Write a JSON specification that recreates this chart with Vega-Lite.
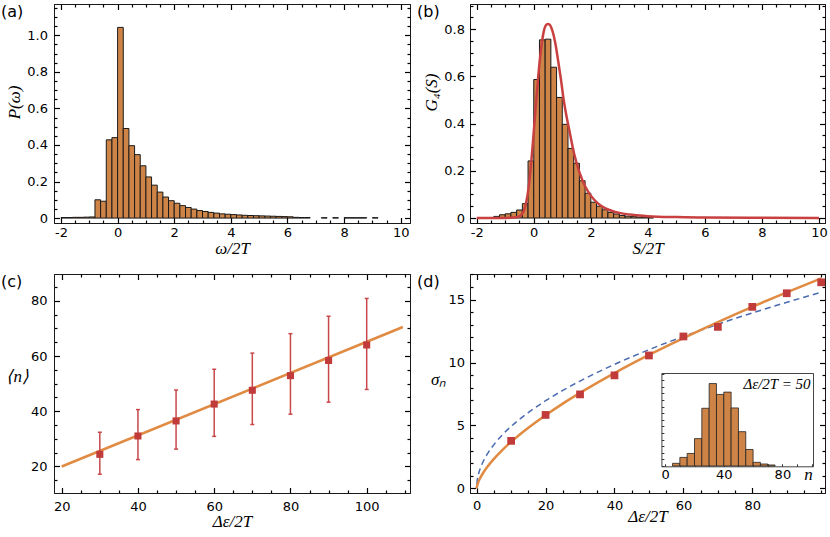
{
  "$schema": "https://vega.github.io/schema/vega-lite/v6.json",
  "background": "white",
  "padding": {"left": 0, "top": 2, "right": 0, "bottom": 0},
  "columns": 2,
  "spacing": {"row": 51, "column": 60},
  "bounds": "flush",
  "datasets": {
    "histA": [
      {"lo": -2.0, "hi": -1.8, "p": 0.003}, {"lo": -1.8, "hi": -1.6, "p": 0.003},
      {"lo": -1.6, "hi": -1.4, "p": 0.004}, {"lo": -1.4, "hi": -1.2, "p": 0.004},
      {"lo": -1.2, "hi": -1.0, "p": 0.005}, {"lo": -1.0, "hi": -0.8, "p": 0.006},
      {"lo": -0.8, "hi": -0.6, "p": 0.100}, {"lo": -0.6, "hi": -0.4, "p": 0.092},
      {"lo": -0.4, "hi": -0.2, "p": 0.428}, {"lo": -0.2, "hi": 0.0, "p": 0.440},
      {"lo": 0.0, "hi": 0.2, "p": 1.043}, {"lo": 0.2, "hi": 0.4, "p": 0.490},
      {"lo": 0.4, "hi": 0.6, "p": 0.396}, {"lo": 0.6, "hi": 0.8, "p": 0.347},
      {"lo": 0.8, "hi": 1.0, "p": 0.286}, {"lo": 1.0, "hi": 1.2, "p": 0.225},
      {"lo": 1.2, "hi": 1.4, "p": 0.180}, {"lo": 1.4, "hi": 1.6, "p": 0.142},
      {"lo": 1.6, "hi": 1.8, "p": 0.115}, {"lo": 1.8, "hi": 2.0, "p": 0.095},
      {"lo": 2.0, "hi": 2.2, "p": 0.081}, {"lo": 2.2, "hi": 2.4, "p": 0.068},
      {"lo": 2.4, "hi": 2.6, "p": 0.058}, {"lo": 2.6, "hi": 2.8, "p": 0.049},
      {"lo": 2.8, "hi": 3.0, "p": 0.041}, {"lo": 3.0, "hi": 3.2, "p": 0.036},
      {"lo": 3.2, "hi": 3.4, "p": 0.031}, {"lo": 3.4, "hi": 3.6, "p": 0.027},
      {"lo": 3.6, "hi": 3.8, "p": 0.023}, {"lo": 3.8, "hi": 4.0, "p": 0.021},
      {"lo": 4.0, "hi": 4.2, "p": 0.019}, {"lo": 4.2, "hi": 4.4, "p": 0.017},
      {"lo": 4.4, "hi": 4.6, "p": 0.015}, {"lo": 4.6, "hi": 4.8, "p": 0.014},
      {"lo": 4.8, "hi": 5.0, "p": 0.013}, {"lo": 5.0, "hi": 5.2, "p": 0.012},
      {"lo": 5.2, "hi": 5.4, "p": 0.011}, {"lo": 5.4, "hi": 5.6, "p": 0.010},
      {"lo": 5.6, "hi": 5.8, "p": 0.009}, {"lo": 5.8, "hi": 6.0, "p": 0.008},
      {"lo": 6.0, "hi": 6.2, "p": 0.007}, {"lo": 6.2, "hi": 6.4, "p": 0.004},
      {"lo": 6.4, "hi": 6.6, "p": 0.003}, {"lo": 6.6, "hi": 6.8, "p": 0.003},
      {"lo": 7.2, "hi": 7.4, "p": 0.002}, {"lo": 7.6, "hi": 7.8, "p": 0.002},
      {"lo": 8.0, "hi": 8.2, "p": 0.002}, {"lo": 8.2, "hi": 8.4, "p": 0.002},
      {"lo": 8.4, "hi": 8.6, "p": 0.002}, {"lo": 8.6, "hi": 8.8, "p": 0.002},
      {"lo": 9.0, "hi": 9.2, "p": 0.002}
    ],
    "histB": [
      {"lo": -1.4, "hi": -1.2, "g": 0.007}, {"lo": -1.2, "hi": -1.0, "g": 0.014},
      {"lo": -1.0, "hi": -0.8, "g": 0.018}, {"lo": -0.8, "hi": -0.6, "g": 0.024},
      {"lo": -0.6, "hi": -0.4, "g": 0.034}, {"lo": -0.4, "hi": -0.2, "g": 0.061},
      {"lo": -0.2, "hi": 0.0, "g": 0.242}, {"lo": 0.0, "hi": 0.2, "g": 0.587},
      {"lo": 0.2, "hi": 0.4, "g": 0.755}, {"lo": 0.4, "hi": 0.6, "g": 0.758},
      {"lo": 0.6, "hi": 0.8, "g": 0.639}, {"lo": 0.8, "hi": 1.0, "g": 0.511},
      {"lo": 1.0, "hi": 1.2, "g": 0.397}, {"lo": 1.2, "hi": 1.4, "g": 0.295},
      {"lo": 1.4, "hi": 1.6, "g": 0.232}, {"lo": 1.6, "hi": 1.8, "g": 0.158},
      {"lo": 1.8, "hi": 2.0, "g": 0.105}, {"lo": 2.0, "hi": 2.2, "g": 0.067},
      {"lo": 2.2, "hi": 2.4, "g": 0.050}, {"lo": 2.4, "hi": 2.6, "g": 0.035},
      {"lo": 2.6, "hi": 2.8, "g": 0.024}, {"lo": 2.8, "hi": 3.0, "g": 0.017},
      {"lo": 3.0, "hi": 3.2, "g": 0.011}, {"lo": 3.2, "hi": 3.4, "g": 0.008},
      {"lo": 3.4, "hi": 3.6, "g": 0.006}, {"lo": 3.6, "hi": 3.8, "g": 0.004},
      {"lo": 3.8, "hi": 4.0, "g": 0.003}, {"lo": 4.0, "hi": 4.2, "g": 0.002}
    ],
    "curveB": [
      {"s": -2.0, "g": 0.0}, {"s": -1.0, "g": 0.0005}, {"s": -0.6, "g": 0.003},
      {"s": -0.45, "g": 0.012}, {"s": -0.35, "g": 0.03}, {"s": -0.25, "g": 0.075},
      {"s": -0.15, "g": 0.16}, {"s": -0.05, "g": 0.29}, {"s": 0.05, "g": 0.44},
      {"s": 0.15, "g": 0.59}, {"s": 0.25, "g": 0.71}, {"s": 0.35, "g": 0.79},
      {"s": 0.45, "g": 0.82}, {"s": 0.5, "g": 0.822}, {"s": 0.55, "g": 0.82},
      {"s": 0.65, "g": 0.795}, {"s": 0.75, "g": 0.745}, {"s": 0.85, "g": 0.67},
      {"s": 0.95, "g": 0.59}, {"s": 1.05, "g": 0.5}, {"s": 1.15, "g": 0.43},
      {"s": 1.25, "g": 0.37}, {"s": 1.4, "g": 0.28}, {"s": 1.6, "g": 0.195},
      {"s": 1.8, "g": 0.135}, {"s": 2.0, "g": 0.095}, {"s": 2.25, "g": 0.062},
      {"s": 2.5, "g": 0.042}, {"s": 2.75, "g": 0.03}, {"s": 3.0, "g": 0.022},
      {"s": 3.5, "g": 0.013}, {"s": 4.0, "g": 0.008}, {"s": 5.0, "g": 0.004},
      {"s": 6.0, "g": 0.0025}, {"s": 8.0, "g": 0.0012}, {"s": 10.0, "g": 0.0007}
    ],
    "pointsC": [
      {"de": 30, "n": 24.4, "lo": 17.2, "hi": 32.4},
      {"de": 40, "n": 31.05, "lo": 22.5, "hi": 40.6},
      {"de": 50, "n": 36.5, "lo": 26.3, "hi": 47.7},
      {"de": 60, "n": 42.6, "lo": 30.9, "hi": 55.2},
      {"de": 70, "n": 47.6, "lo": 35.2, "hi": 61.05},
      {"de": 80, "n": 52.9, "lo": 38.95, "hi": 68.1},
      {"de": 90, "n": 58.4, "lo": 43.3, "hi": 74.4},
      {"de": 100, "n": 64.0, "lo": 47.9, "hi": 80.85}
    ],
    "lineC": [
      {"de": 20, "n": 20}, {"de": 109.5, "n": 70.5}
    ],
    "pointsD": [
      {"de": 10, "sigma": 3.78}, {"de": 20, "sigma": 5.84}, {"de": 30, "sigma": 7.47},
      {"de": 40, "sigma": 8.98}, {"de": 50, "sigma": 10.56}, {"de": 60, "sigma": 12.07},
      {"de": 70, "sigma": 12.83}, {"de": 80, "sigma": 14.42}, {"de": 90, "sigma": 15.5},
      {"de": 100, "sigma": 16.37}
    ],
    "fitD": [
      {"de": 0, "sigma": 0}, {"de": 0.1, "sigma": 0.18}, {"de": 0.25, "sigma": 0.33},
      {"de": 0.5, "sigma": 0.52}, {"de": 1, "sigma": 0.82}, {"de": 2, "sigma": 1.29},
      {"de": 3, "sigma": 1.68}, {"de": 5, "sigma": 2.35}, {"de": 7.5, "sigma": 3.07},
      {"de": 10, "sigma": 3.7}, {"de": 15, "sigma": 4.82}, {"de": 20, "sigma": 5.82},
      {"de": 25, "sigma": 6.74}, {"de": 30, "sigma": 7.59}, {"de": 40, "sigma": 9.16},
      {"de": 50, "sigma": 10.6}, {"de": 60, "sigma": 11.94}, {"de": 70, "sigma": 13.21},
      {"de": 80, "sigma": 14.42}, {"de": 90, "sigma": 15.57}, {"de": 100, "sigma": 16.68}
    ],
    "sqrtD": [
      {"de": 0.05, "sigma": 0.35}, {"de": 0.2, "sigma": 0.7}, {"de": 0.5, "sigma": 1.1},
      {"de": 1, "sigma": 1.56}, {"de": 2, "sigma": 2.2}, {"de": 3, "sigma": 2.7},
      {"de": 5, "sigma": 3.48}, {"de": 7.5, "sigma": 4.27}, {"de": 10, "sigma": 4.93},
      {"de": 15, "sigma": 6.03}, {"de": 20, "sigma": 6.97}, {"de": 25, "sigma": 7.79},
      {"de": 30, "sigma": 8.53}, {"de": 40, "sigma": 9.85}, {"de": 50, "sigma": 11.02},
      {"de": 60, "sigma": 12.07}, {"de": 70, "sigma": 13.04}, {"de": 80, "sigma": 13.94},
      {"de": 90, "sigma": 14.78}, {"de": 100, "sigma": 15.58}
    ],
    "inset": [
      {"lo": 5, "hi": 10, "count": 8}, {"lo": 10, "hi": 15, "count": 26},
      {"lo": 15, "hi": 20, "count": 38}, {"lo": 20, "hi": 25, "count": 83},
      {"lo": 25, "hi": 30, "count": 175}, {"lo": 30, "hi": 35, "count": 250},
      {"lo": 35, "hi": 40, "count": 217}, {"lo": 40, "hi": 45, "count": 224},
      {"lo": 45, "hi": 50, "count": 176}, {"lo": 50, "hi": 55, "count": 104},
      {"lo": 55, "hi": 60, "count": 50}, {"lo": 60, "hi": 65, "count": 11},
      {"lo": 65, "hi": 70, "count": 6}, {"lo": 70, "hi": 75, "count": 3}
    ]
  },
  "concat": [
    {
      "title": "(a)",
      "width": 356,
      "height": 219,
      "layer": [
        {
          "data": {"name": "histA"},
          "mark": {"type": "bar", "fill": "#CF8447", "stroke": "#1a1a1a", "strokeWidth": 1},
          "encoding": {
            "x": {"field": "lo", "type": "quantitative", "scale": {"domain": [-2.247, 10.33], "nice": false, "zero": false},
              "axis": {"orient": "bottom", "values": [-2, 0, 2, 4, 6, 8, 10], "ticks": false, "labelPadding": 3.5, "labelExpr": "replace(datum.label, '−', '-')", "title": "ω/2T", "titlePadding": 1}},
            "x2": {"field": "hi"},
            "y": {"field": "p", "type": "quantitative", "scale": {"domain": [-0.027, 1.171], "nice": false, "zero": false},
              "axis": {"orient": "left", "values": [0, 0.2, 0.4, 0.6, 0.8, 1.0], "ticks": false, "labelPadding": 6.5, "labelExpr": "datum.value == 0 ? '0' : format(datum.value, '.1f')", "title": "P(ω)", "titlePadding": 3, "titleY": 98}},
            "y2": {"datum": 0}
          }
        },
        {
          "data": {"name": "histA"},
          "mark": {"type": "point", "opacity": 0},
          "encoding": {
            "x": {"field": "lo", "type": "quantitative", "scale": {"domain": [-2.247, 10.33], "nice": false, "zero": false},
              "axis": {"orient": "top", "offset": -219, "values": [-2, 0, 2, 4, 6, 8, 10], "tickSize": 5.5, "tickColor": "#000000", "tickWidth": 1.2, "domain": false, "labels": false, "title": null}},
            "y": {"field": "p", "type": "quantitative", "scale": {"domain": [-0.027, 1.171], "nice": false, "zero": false},
              "axis": {"orient": "right", "offset": -356, "values": [0, 0.2, 0.4, 0.6, 0.8, 1.0], "tickSize": 5.5, "tickColor": "#000000", "tickWidth": 1.2, "domain": false, "labels": false, "title": null}}
          }
        },
        {
          "data": {"name": "histA"},
          "mark": {"type": "point", "opacity": 0},
          "encoding": {
            "x": {"field": "lo", "type": "quantitative", "scale": {"domain": [-2.247, 10.33], "nice": false, "zero": false},
              "axis": {"orient": "top", "offset": -219, "values": [-1.5, -1, -0.5, 0.5, 1, 1.5, 2.5, 3, 3.5, 4.5, 5, 5.5, 6.5, 7, 7.5, 8.5, 9, 9.5], "tickSize": 3, "tickColor": "#000000", "tickWidth": 1.2, "domain": false, "labels": false, "title": null}},
            "y": {"field": "p", "type": "quantitative", "scale": {"domain": [-0.027, 1.171], "nice": false, "zero": false},
              "axis": {"orient": "right", "offset": -356, "values": [0.05, 0.1, 0.15, 0.25, 0.3, 0.35, 0.45, 0.5, 0.55, 0.65, 0.7, 0.75, 0.85, 0.9, 0.95, 1.05, 1.1, 1.15], "tickSize": 3, "tickColor": "#000000", "tickWidth": 1.2, "domain": false, "labels": false, "title": null}}
          }
        },
        {
          "data": {"name": "histA"},
          "mark": {"type": "point", "opacity": 0},
          "encoding": {
            "x": {"field": "lo", "type": "quantitative", "scale": {"domain": [-2.247, 10.33], "nice": false, "zero": false},
              "axis": {"orient": "bottom", "offset": -219, "values": [-2, 0, 2, 4, 6, 8, 10], "tickSize": 5.5, "tickColor": "#000000", "tickWidth": 1.2, "labels": false, "title": null}},
            "y": {"field": "p", "type": "quantitative", "scale": {"domain": [-0.027, 1.171], "nice": false, "zero": false},
              "axis": {"orient": "left", "offset": -356, "values": [0, 0.2, 0.4, 0.6, 0.8, 1.0], "tickSize": 5.5, "tickColor": "#000000", "tickWidth": 1.2, "labels": false, "title": null}}
          }
        },
        {
          "data": {"name": "histA"},
          "mark": {"type": "point", "opacity": 0},
          "encoding": {
            "x": {"field": "lo", "type": "quantitative", "scale": {"domain": [-2.247, 10.33], "nice": false, "zero": false},
              "axis": {"orient": "bottom", "offset": -219, "values": [-1.5, -1, -0.5, 0.5, 1, 1.5, 2.5, 3, 3.5, 4.5, 5, 5.5, 6.5, 7, 7.5, 8.5, 9, 9.5], "tickSize": 3, "tickColor": "#000000", "tickWidth": 1.2, "domain": false, "labels": false, "title": null}},
            "y": {"field": "p", "type": "quantitative", "scale": {"domain": [-0.027, 1.171], "nice": false, "zero": false},
              "axis": {"orient": "left", "offset": -356, "values": [0.05, 0.1, 0.15, 0.25, 0.3, 0.35, 0.45, 0.5, 0.55, 0.65, 0.7, 0.75, 0.85, 0.9, 0.95, 1.05, 1.1, 1.15], "tickSize": 3, "tickColor": "#000000", "tickWidth": 1.2, "domain": false, "labels": false, "title": null}}
          }
        }
      ],
      "resolve": {"axis": {"x": "independent", "y": "independent"}}
    },
    {
      "title": "(b)",
      "width": 355,
      "height": 219,
      "layer": [
        {
          "data": {"name": "histB"},
          "mark": {"type": "bar", "fill": "#CF8447", "stroke": "#1a1a1a", "strokeWidth": 1},
          "encoding": {
            "x": {"field": "lo", "type": "quantitative", "scale": {"domain": [-2.235, 10.21], "nice": false, "zero": false},
              "axis": {"orient": "bottom", "values": [-2, 0, 2, 4, 6, 8, 10], "ticks": false, "labelPadding": 3.5, "labelExpr": "replace(datum.label, '−', '-')", "title": "S/2T", "titlePadding": 1}},
            "x2": {"field": "hi"},
            "y": {"field": "g", "type": "quantitative", "scale": {"domain": [-0.021, 0.907], "nice": false, "zero": false},
              "axis": {"orient": "left", "values": [0, 0.2, 0.4, 0.6, 0.8], "ticks": false, "labelPadding": 5.5, "labelExpr": "datum.value == 0 ? '0' : format(datum.value, '.1f')", "title": "G₄(S)", "titlePadding": 3, "titleY": 88}},
            "y2": {"datum": 0}
          }
        },
        {
          "data": {"name": "curveB"},
          "mark": {"type": "line", "color": "#C8403F", "strokeWidth": 2.5, "interpolate": "monotone"},
          "encoding": {
            "x": {"field": "s", "type": "quantitative", "scale": {"domain": [-2.235, 10.21], "nice": false, "zero": false},
              "axis": {"orient": "top", "offset": -219, "values": [-1.5, -1, -0.5, 0.5, 1, 1.5, 2.5, 3, 3.5, 4.5, 5, 5.5, 6.5, 7, 7.5, 8.5, 9, 9.5], "tickSize": 3, "tickColor": "#000000", "tickWidth": 1.2, "domain": false, "labels": false, "title": null}},
            "y": {"field": "g", "type": "quantitative", "scale": {"domain": [-0.021, 0.907], "nice": false, "zero": false},
              "axis": {"orient": "right", "offset": -355, "values": [0.05, 0.1, 0.15, 0.25, 0.3, 0.35, 0.45, 0.5, 0.55, 0.65, 0.7, 0.75, 0.85, 0.9], "tickSize": 3, "tickColor": "#000000", "tickWidth": 1.2, "domain": false, "labels": false, "title": null}}
          }
        },
        {
          "data": {"name": "histB"},
          "mark": {"type": "point", "opacity": 0},
          "encoding": {
            "x": {"field": "lo", "type": "quantitative", "scale": {"domain": [-2.235, 10.21], "nice": false, "zero": false},
              "axis": {"orient": "top", "offset": -219, "values": [-2, 0, 2, 4, 6, 8, 10], "tickSize": 5.5, "tickColor": "#000000", "tickWidth": 1.2, "domain": false, "labels": false, "title": null}},
            "y": {"field": "g", "type": "quantitative", "scale": {"domain": [-0.021, 0.907], "nice": false, "zero": false},
              "axis": {"orient": "right", "offset": -355, "values": [0, 0.2, 0.4, 0.6, 0.8], "tickSize": 5.5, "tickColor": "#000000", "tickWidth": 1.2, "domain": false, "labels": false, "title": null}}
          }
        },
        {
          "data": {"name": "histB"},
          "mark": {"type": "point", "opacity": 0},
          "encoding": {
            "x": {"field": "lo", "type": "quantitative", "scale": {"domain": [-2.235, 10.21], "nice": false, "zero": false},
              "axis": {"orient": "bottom", "offset": -219, "values": [-2, 0, 2, 4, 6, 8, 10], "tickSize": 5.5, "tickColor": "#000000", "tickWidth": 1.2, "labels": false, "title": null}},
            "y": {"field": "g", "type": "quantitative", "scale": {"domain": [-0.021, 0.907], "nice": false, "zero": false},
              "axis": {"orient": "left", "offset": -355, "values": [0, 0.2, 0.4, 0.6, 0.8], "tickSize": 5.5, "tickColor": "#000000", "tickWidth": 1.2, "labels": false, "title": null}}
          }
        },
        {
          "data": {"name": "histB"},
          "mark": {"type": "point", "opacity": 0},
          "encoding": {
            "x": {"field": "lo", "type": "quantitative", "scale": {"domain": [-2.235, 10.21], "nice": false, "zero": false},
              "axis": {"orient": "bottom", "offset": -219, "values": [-1.5, -1, -0.5, 0.5, 1, 1.5, 2.5, 3, 3.5, 4.5, 5, 5.5, 6.5, 7, 7.5, 8.5, 9, 9.5], "tickSize": 3, "tickColor": "#000000", "tickWidth": 1.2, "domain": false, "labels": false, "title": null}},
            "y": {"field": "g", "type": "quantitative", "scale": {"domain": [-0.021, 0.907], "nice": false, "zero": false},
              "axis": {"orient": "left", "offset": -355, "values": [0.05, 0.1, 0.15, 0.25, 0.3, 0.35, 0.45, 0.5, 0.55, 0.65, 0.7, 0.75, 0.85, 0.9], "tickSize": 3, "tickColor": "#000000", "tickWidth": 1.2, "domain": false, "labels": false, "title": null}}
          }
        }
      ],
      "resolve": {"axis": {"x": "independent", "y": "independent"}}
    },
    {
      "title": "(c)",
      "width": 356,
      "height": 219,
      "layer": [
        {
          "data": {"name": "lineC"},
          "mark": {"type": "line", "color": "#E08A42", "strokeWidth": 2.5},
          "encoding": {
            "x": {"field": "de", "type": "quantitative", "scale": {"domain": [17.98, 111.36], "nice": false, "zero": false},
              "axis": {"orient": "top", "offset": -219, "values": [25, 30, 35, 45, 50, 55, 65, 70, 75, 85, 90, 95, 105, 110], "tickSize": 3, "tickColor": "#000000", "tickWidth": 1.2, "domain": false, "labels": false, "title": null}},
            "y": {"field": "n", "type": "quantitative", "scale": {"domain": [10.4, 89.7], "nice": false, "zero": false},
              "axis": {"orient": "right", "offset": -356, "values": [15, 25, 30, 35, 45, 50, 55, 65, 70, 75, 85], "tickSize": 3, "tickColor": "#000000", "tickWidth": 1.2, "domain": false, "labels": false, "title": null}}
          }
        },
        {
          "data": {"name": "pointsC"},
          "mark": {"type": "rule", "color": "#C8484A", "strokeWidth": 1.5},
          "encoding": {
            "x": {"field": "de", "type": "quantitative", "scale": {"domain": [17.98, 111.36], "nice": false, "zero": false}, "axis": null},
            "y": {"field": "lo", "type": "quantitative", "scale": {"domain": [10.4, 89.7], "nice": false, "zero": false}, "axis": null},
            "y2": {"field": "hi"}
          }
        },
        {
          "data": {"name": "pointsC"},
          "mark": {"type": "tick", "orient": "horizontal", "color": "#C8484A", "size": 4, "thickness": 1.5, "opacity": 1},
          "encoding": {
            "x": {"field": "de", "type": "quantitative", "scale": {"domain": [17.98, 111.36], "nice": false, "zero": false}, "axis": null},
            "y": {"field": "lo", "type": "quantitative", "scale": {"domain": [10.4, 89.7], "nice": false, "zero": false}, "axis": null}
          }
        },
        {
          "data": {"name": "pointsC"},
          "mark": {"type": "tick", "orient": "horizontal", "color": "#C8484A", "size": 4, "thickness": 1.5, "opacity": 1},
          "encoding": {
            "x": {"field": "de", "type": "quantitative", "scale": {"domain": [17.98, 111.36], "nice": false, "zero": false}, "axis": null},
            "y": {"field": "hi", "type": "quantitative", "scale": {"domain": [10.4, 89.7], "nice": false, "zero": false}, "axis": null}
          }
        },
        {
          "data": {"name": "pointsC"},
          "mark": {"type": "square", "color": "#C23B3B", "size": 50, "opacity": 1},
          "encoding": {
            "x": {"field": "de", "type": "quantitative", "scale": {"domain": [17.98, 111.36], "nice": false, "zero": false},
              "axis": {"orient": "bottom", "values": [20, 40, 60, 80, 100], "ticks": false, "labelPadding": 7.5, "title": "Δε/2T", "titlePadding": 0}},
            "y": {"field": "n", "type": "quantitative", "scale": {"domain": [10.4, 89.7], "nice": false, "zero": false},
              "axis": {"orient": "left", "values": [20, 40, 60, 80], "ticks": false, "labelPadding": 7, "title": "⟨n⟩", "titleAngle": 0, "titleAlign": "right", "titleBaseline": "middle", "titlePadding": 2, "titleY": 102}}
          }
        },
        {
          "data": {"name": "pointsC"},
          "mark": {"type": "point", "opacity": 0},
          "encoding": {
            "x": {"field": "de", "type": "quantitative", "scale": {"domain": [17.98, 111.36], "nice": false, "zero": false},
              "axis": {"orient": "top", "offset": -219, "values": [20, 40, 60, 80, 100], "tickSize": 5.5, "tickColor": "#000000", "tickWidth": 1.2, "domain": false, "labels": false, "title": null}},
            "y": {"field": "n", "type": "quantitative", "scale": {"domain": [10.4, 89.7], "nice": false, "zero": false},
              "axis": {"orient": "right", "offset": -356, "values": [20, 40, 60, 80], "tickSize": 5.5, "tickColor": "#000000", "tickWidth": 1.2, "domain": false, "labels": false, "title": null}}
          }
        },
        {
          "data": {"name": "pointsC"},
          "mark": {"type": "point", "opacity": 0},
          "encoding": {
            "x": {"field": "de", "type": "quantitative", "scale": {"domain": [17.98, 111.36], "nice": false, "zero": false},
              "axis": {"orient": "bottom", "offset": -219, "values": [20, 40, 60, 80, 100], "tickSize": 5.5, "tickColor": "#000000", "tickWidth": 1.2, "labels": false, "title": null}},
            "y": {"field": "n", "type": "quantitative", "scale": {"domain": [10.4, 89.7], "nice": false, "zero": false},
              "axis": {"orient": "left", "offset": -356, "values": [20, 40, 60, 80], "tickSize": 5.5, "tickColor": "#000000", "tickWidth": 1.2, "labels": false, "title": null}}
          }
        },
        {
          "data": {"name": "pointsC"},
          "mark": {"type": "point", "opacity": 0},
          "encoding": {
            "x": {"field": "de", "type": "quantitative", "scale": {"domain": [17.98, 111.36], "nice": false, "zero": false},
              "axis": {"orient": "bottom", "offset": -219, "values": [25, 30, 35, 45, 50, 55, 65, 70, 75, 85, 90, 95, 105, 110], "tickSize": 3, "tickColor": "#000000", "tickWidth": 1.2, "domain": false, "labels": false, "title": null}},
            "y": {"field": "n", "type": "quantitative", "scale": {"domain": [10.4, 89.7], "nice": false, "zero": false},
              "axis": {"orient": "left", "offset": -356, "values": [15, 25, 30, 35, 45, 50, 55, 65, 70, 75, 85], "tickSize": 3, "tickColor": "#000000", "tickWidth": 1.2, "domain": false, "labels": false, "title": null}}
          }
        }
      ],
      "resolve": {"axis": {"x": "independent", "y": "independent"}}
    },
    {
      "title": "(d)",
      "width": 355,
      "height": 219,
      "layer": [
        {
          "layer": [
            {
              "data": {"name": "sqrtD"},
              "mark": {"type": "line", "color": "#4A6BB0", "strokeWidth": 1.5, "strokeDash": [6, 4], "interpolate": "monotone"},
              "encoding": {
                "x": {"field": "de", "type": "quantitative", "scale": {"domain": [-1.94, 101.1], "nice": false, "zero": false},
                  "axis": {"orient": "top", "offset": -219, "values": [0, 20, 40, 60, 80], "tickSize": 5.5, "tickColor": "#000000", "tickWidth": 1.2, "domain": false, "labels": false, "title": null}},
                "y": {"field": "sigma", "type": "quantitative", "scale": {"domain": [-0.36, 17.03], "nice": false, "zero": false},
                  "axis": {"orient": "right", "offset": -355, "values": [0, 5, 10, 15], "tickSize": 5.5, "tickColor": "#000000", "tickWidth": 1.2, "domain": false, "labels": false, "title": null}}
              }
            },
            {
              "data": {"name": "fitD"},
              "mark": {"type": "line", "color": "#E08A42", "strokeWidth": 2.5, "interpolate": "monotone"},
              "encoding": {
                "x": {"field": "de", "type": "quantitative", "scale": {"domain": [-1.94, 101.1], "nice": false, "zero": false},
                  "axis": {"orient": "top", "offset": -219, "values": [5, 10, 15, 25, 30, 35, 45, 50, 55, 65, 70, 75, 85, 90, 95, 100], "tickSize": 3, "tickColor": "#000000", "tickWidth": 1.2, "domain": false, "labels": false, "title": null}},
                "y": {"field": "sigma", "type": "quantitative", "scale": {"domain": [-0.36, 17.03], "nice": false, "zero": false},
                  "axis": {"orient": "right", "offset": -355, "values": [1, 2, 3, 4, 6, 7, 8, 9, 11, 12, 13, 14, 16, 17], "tickSize": 3, "tickColor": "#000000", "tickWidth": 1.2, "domain": false, "labels": false, "title": null}}
              }
            },
            {
              "data": {"name": "pointsD"},
              "mark": {"type": "square", "color": "#C23B3B", "size": 60, "opacity": 1},
              "encoding": {
                "x": {"field": "de", "type": "quantitative", "scale": {"domain": [-1.94, 101.1], "nice": false, "zero": false},
                  "axis": {"orient": "bottom", "values": [0, 20, 40, 60, 80], "ticks": false, "labelPadding": 6, "title": "Δε/2T", "titlePadding": -4}},
                "y": {"field": "sigma", "type": "quantitative", "scale": {"domain": [-0.36, 17.03], "nice": false, "zero": false},
                  "axis": {"orient": "left", "values": [0, 5, 10, 15], "ticks": false, "labelPadding": 5.5, "title": "σₙ", "titleAngle": 0, "titleAlign": "right", "titleBaseline": "middle", "titlePadding": 2, "titleY": 105}}
              }
            },
            {
              "data": {"name": "pointsD"},
              "mark": {"type": "point", "opacity": 0},
              "encoding": {
                "x": {"field": "de", "type": "quantitative", "scale": {"domain": [-1.94, 101.1], "nice": false, "zero": false},
                  "axis": {"orient": "bottom", "offset": -219, "values": [0, 20, 40, 60, 80], "tickSize": 5.5, "tickColor": "#000000", "tickWidth": 1.2, "labels": false, "title": null}},
                "y": {"field": "sigma", "type": "quantitative", "scale": {"domain": [-0.36, 17.03], "nice": false, "zero": false},
                  "axis": {"orient": "left", "offset": -355, "values": [0, 5, 10, 15], "tickSize": 5.5, "tickColor": "#000000", "tickWidth": 1.2, "labels": false, "title": null}}
              }
            },
            {
              "data": {"name": "pointsD"},
              "mark": {"type": "point", "opacity": 0},
              "encoding": {
                "x": {"field": "de", "type": "quantitative", "scale": {"domain": [-1.94, 101.1], "nice": false, "zero": false},
                  "axis": {"orient": "bottom", "offset": -219, "values": [5, 10, 15, 25, 30, 35, 45, 50, 55, 65, 70, 75, 85, 90, 95, 100], "tickSize": 3, "tickColor": "#000000", "tickWidth": 1.2, "domain": false, "labels": false, "title": null}},
                "y": {"field": "sigma", "type": "quantitative", "scale": {"domain": [-0.36, 17.03], "nice": false, "zero": false},
                  "axis": {"orient": "left", "offset": -355, "values": [1, 2, 3, 4, 6, 7, 8, 9, 11, 12, 13, 14, 16, 17], "tickSize": 3, "tickColor": "#000000", "tickWidth": 1.2, "domain": false, "labels": false, "title": null}}
              }
            }
          ],
          "resolve": {"axis": {"x": "independent", "y": "independent"}}
        },
        {
          "layer": [
            {
              "data": {"name": "inset"},
              "mark": {"type": "bar", "fill": "#CF8447", "stroke": "#222222", "strokeWidth": 0.8},
              "encoding": {
                "x": {"field": "lo", "type": "quantitative", "scale": {"domain": [-2.6, 100.9], "range": [191.4, 343], "nice": false, "zero": false},
                  "axis": {"orient": "bottom", "offset": -26.7, "domainColor": "#444444", "values": [0, 40, 80], "ticks": false, "labelPadding": 2.5, "title": "n", "titleX": 338, "titleY": 13, "titleAlign": "center", "titleBaseline": "alphabetic", "titleFontSize": 17}},
                "x2": {"field": "hi"},
                "y": {"field": "count", "type": "quantitative", "scale": {"domain": [-1, 282], "range": [192.3, 99], "nice": false, "zero": false},
                  "axis": {"orient": "left", "offset": -191.4, "domainColor": "#444444", "values": [0, 100, 200], "ticks": false, "labels": false, "title": null}},
                "y2": {"datum": 0}
              }
            },
            {
              "data": {"name": "inset"},
              "mark": {"type": "point", "opacity": 0},
              "encoding": {
                "x": {"field": "lo", "type": "quantitative", "scale": {"domain": [-2.6, 100.9], "range": [191.4, 343], "nice": false, "zero": false},
                  "axis": {"orient": "top", "offset": -99, "domainColor": "#444444", "values": [0, 40, 80], "ticks": false, "labels": false, "title": "Δε/2T = 50", "titleX": 340, "titleY": 15, "titleAlign": "right", "titleBaseline": "alphabetic", "titleFontSize": 15}},
                "y": {"field": "count", "type": "quantitative", "scale": {"domain": [-1, 282], "range": [192.3, 99], "nice": false, "zero": false},
                  "axis": {"orient": "right", "offset": -12, "domainColor": "#444444", "values": [0, 100, 200], "ticks": false, "labels": false, "title": null}}
              }
            },
            {
              "data": {"name": "inset"},
              "mark": {"type": "point", "opacity": 0},
              "encoding": {
                "x": {"field": "lo", "type": "quantitative", "scale": {"domain": [-2.6, 100.9], "range": [191.4, 343], "nice": false, "zero": false},
                  "axis": {"orient": "top", "offset": -192.3, "domain": false, "values": [0, 10, 20, 30, 40, 50, 60, 70, 80, 90, 100], "tickSize": 2.5, "tickColor": "#333333", "tickWidth": 1, "labels": false, "title": null}},
                "y": {"field": "count", "type": "quantitative", "scale": {"domain": [-1, 282], "range": [192.3, 99], "nice": false, "zero": false},
                  "axis": {"orient": "right", "offset": -163.6, "domain": false, "values": [0, 20, 40, 60, 80, 100, 120, 140, 160, 180, 200, 220, 240, 260, 280], "tickSize": 2.5, "tickColor": "#333333", "tickWidth": 1, "labels": false, "title": null}}
              }
            }
          ],
          "resolve": {"axis": {"x": "independent", "y": "independent"}}
        }
      ],
      "resolve": {"scale": {"x": "independent", "y": "independent"}, "axis": {"x": "independent", "y": "independent"}}
    }
  ],
  "config": {
    "view": {"stroke": "#1a1a1a", "strokeWidth": 1, "fill": "transparent"},
    "axis": {
      "grid": false,
      "domain": true,
      "domainColor": "#1a1a1a",
      "domainWidth": 1,
      "zindex": 1,
      "labelFont": "DejaVu Sans",
      "labelFontSize": 13,
      "labelColor": "#000000",
      "labelFlush": false,
      "labelOverlap": false,
      "titleFont": "Liberation Serif",
      "titleFontStyle": "italic",
      "titleFontWeight": "normal",
      "titleFontSize": 17,
      "titleColor": "#000000",
      "minExtent": 0
    },
    "title": {
      "anchor": "start",
      "frame": "group",
      "dx": -53,
      "offset": -16.5,
      "baseline": "top",
      "font": "DejaVu Sans",
      "fontSize": 16,
      "fontWeight": "normal",
      "color": "#000000"
    }
  }
}
